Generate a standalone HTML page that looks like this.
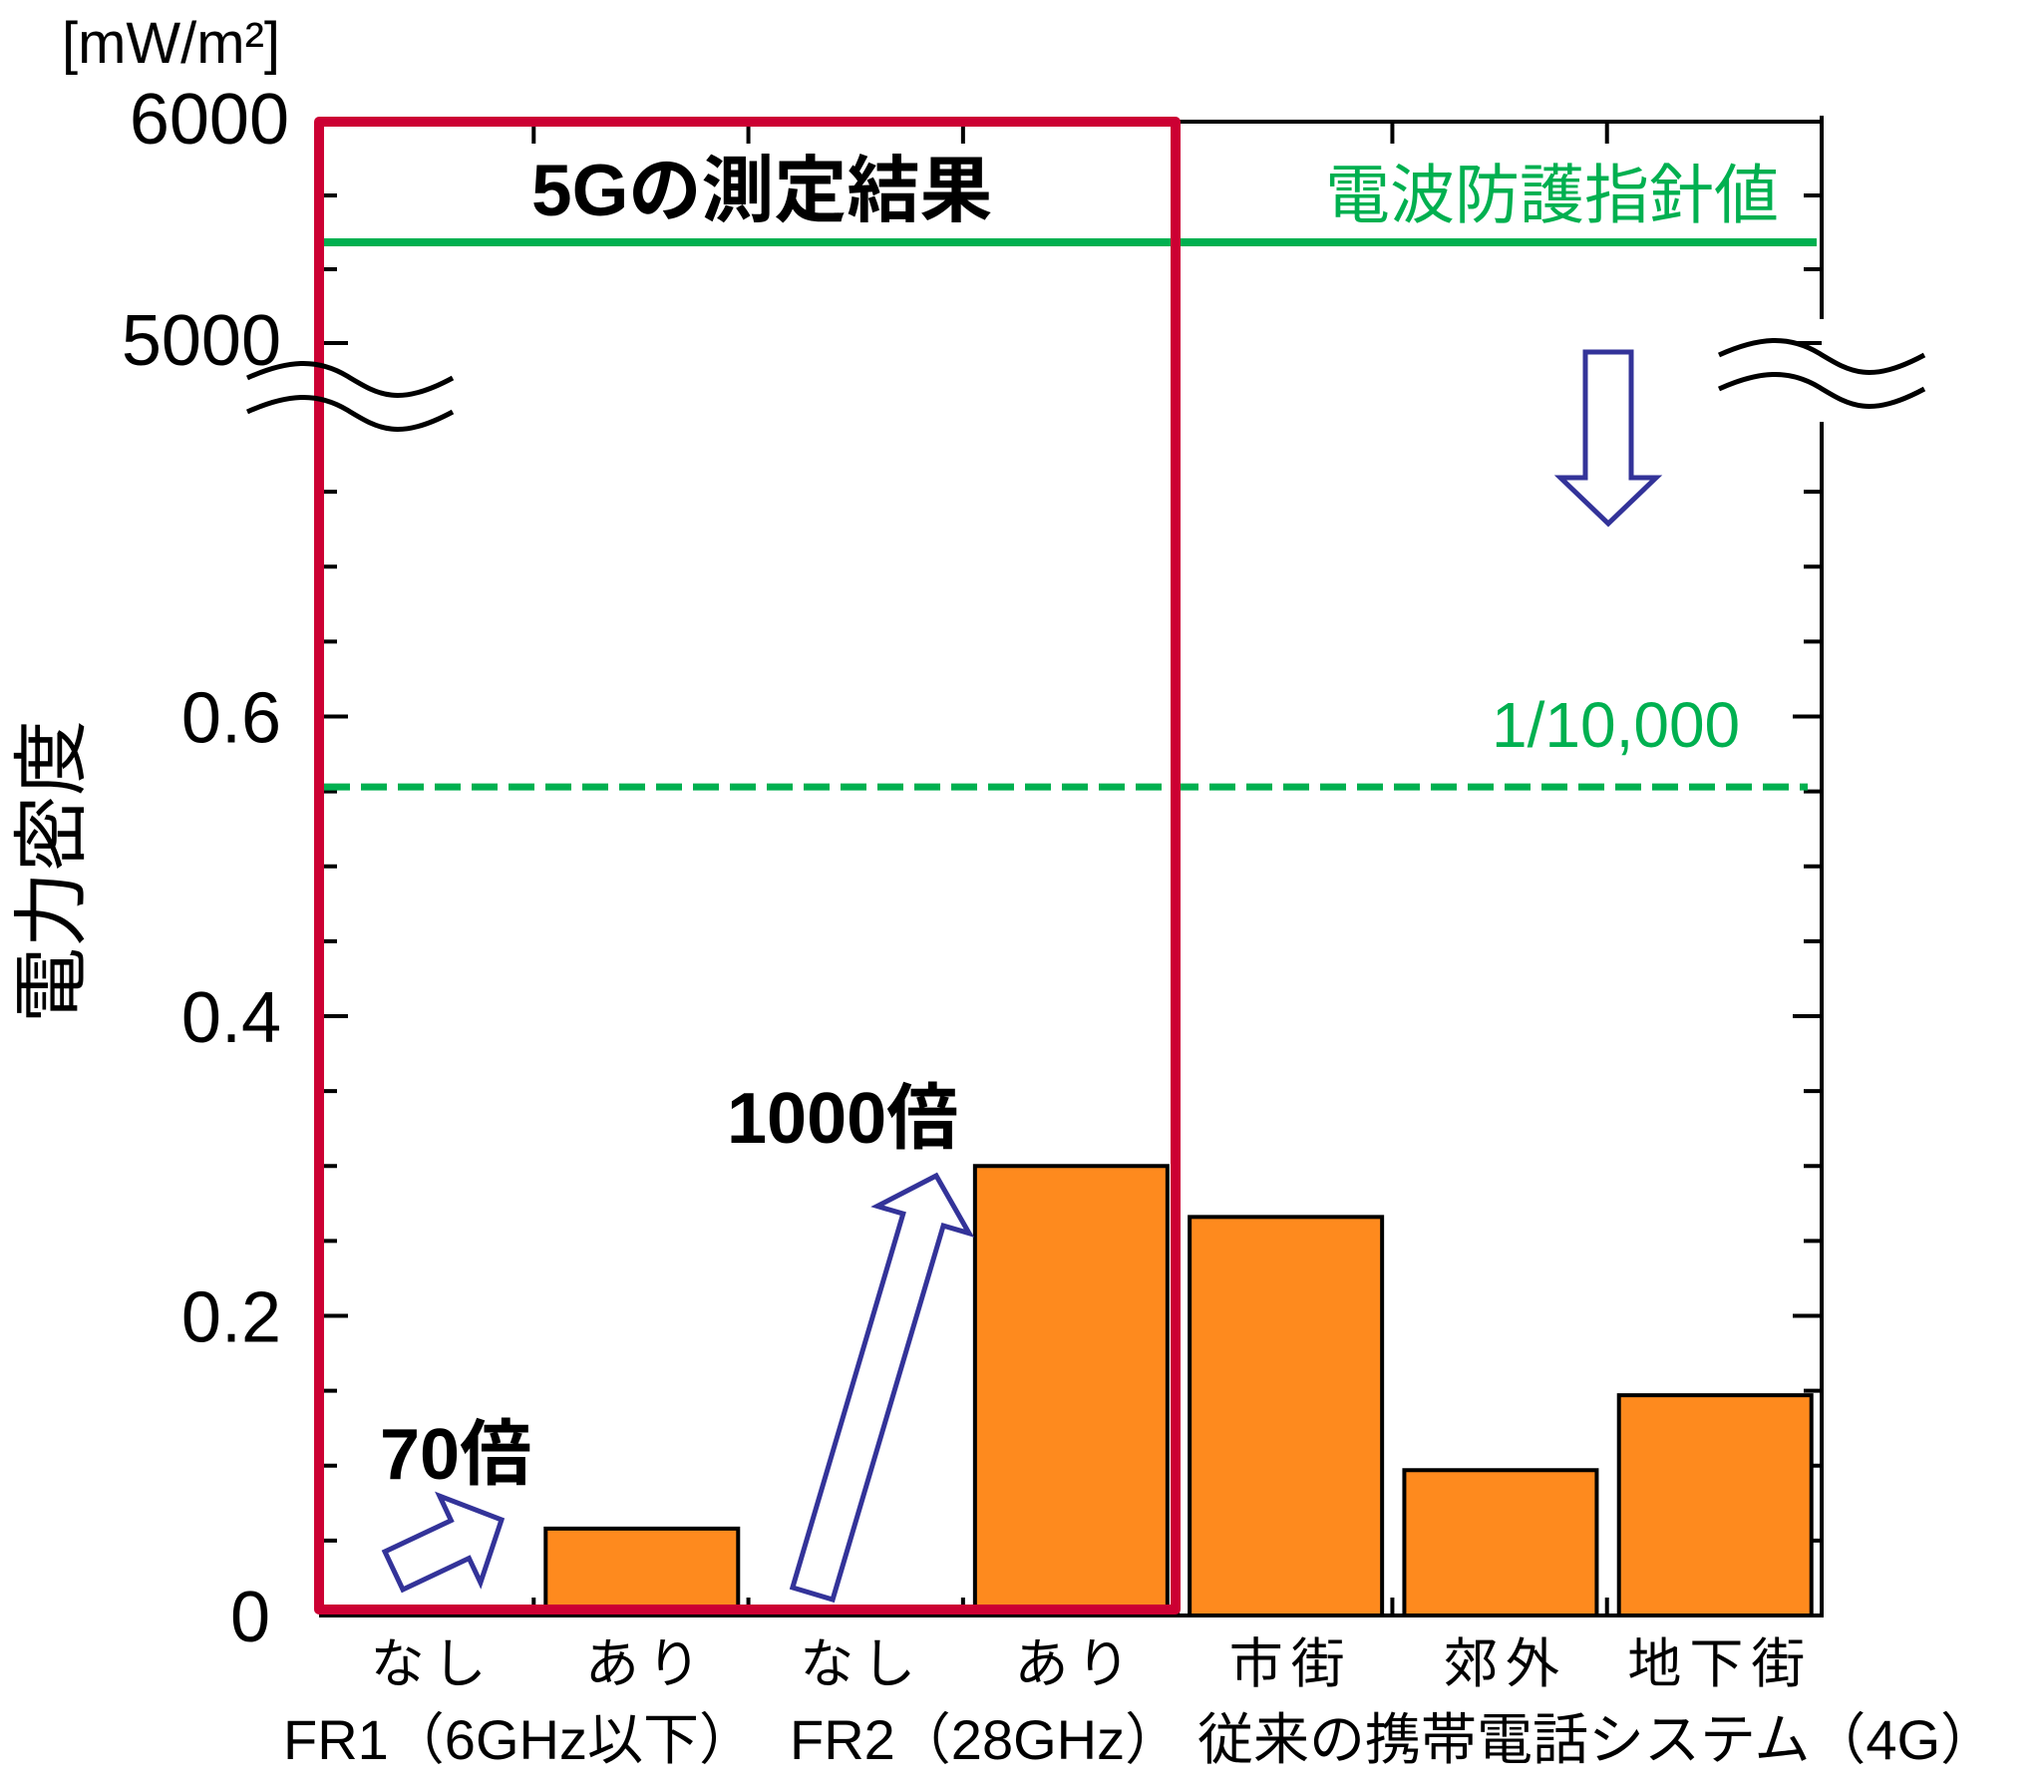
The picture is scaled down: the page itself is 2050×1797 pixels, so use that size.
<!DOCTYPE html>
<html><head><meta charset="utf-8"><style>
html,body{margin:0;padding:0;background:#fff;}
svg{display:block;}
text{font-family:"Liberation Sans","Noto Sans CJK JP",sans-serif;}
</style></head><body>
<svg id="chart" width="2050" height="1797" viewBox="0 0 2050 1797" xmlns="http://www.w3.org/2000/svg">
<g id="axes"></g>
<g id="bars"></g>
<g id="overlay"></g>
<g id="labels">
<text x="62" y="63" font-size="58">[mW/m²]</text>
<text transform="translate(78,874) rotate(-90)" text-anchor="middle" font-size="76" font-family="'Liberation Sans','Noto Sans CJK JP',sans-serif">電力密度</text>
<text x="533" y="216" font-size="73" font-weight="bold">5Gの測定結果</text>
<text x="1329" y="218" font-size="65" fill="#00b050">電波防護指針値</text>
<text x="1496" y="749" font-size="64" fill="#00b050">1/10,000</text>
<text x="729" y="1146" font-size="72" font-weight="bold">1000倍</text>
<text x="381" y="1483" font-size="72" font-weight="bold">70倍</text>
<text x="284" y="1764" font-size="56">FR1（6GHz以下）</text>
<text x="792" y="1764" font-size="56">FR2（28GHz）</text>
<text x="1201" y="1764" font-size="56">従来の携帯電話システム（4G）</text>
</g>
</svg>
<script>
const categories = ["なし","あり","なし","あり","市街","郊外","地下街"];
const values = [0, 0.058, 0, 0.300, 0.266, 0.097, 0.147];
const lowerTicks = [0, 0.2, 0.4, 0.6];
const lowerTickLabels = ["0","0.2","0.4","0.6"];
const upperTicks = [5000, 6000];
const upperTickLabels = ["5000","6000"];
const guidelineValue = 5455;
const ratioValue = 0.553;

const NS = "http://www.w3.org/2000/svg";
const X0 = 320, X1 = 1827, Y0 = 1620, TOP = 122;
const slotW = (X1 - X0) / categories.length;
function xSlot(i){ return X0 + i * slotW; }
function yLow(v){ return Y0 - v / 0.2 * 300.5; }
function yUp(v){ return 344 - (v - 5000) / 1000 * 222; }
function mk(tag, attrs, parent){
  const e = document.createElementNS(NS, tag);
  for (const k in attrs) e.setAttribute(k, attrs[k]);
  parent.appendChild(e);
  return e;
}
const axes = document.getElementById('axes');
const bars = document.getElementById('bars');
const ov = document.getElementById('overlay');

// axis lines
let l = mk('line',{x1:X0,y1:TOP,x2:X1,y2:TOP,stroke:'#000','stroke-width':4},axes);
 
l = mk('line',{x1:X0,y1:Y0,x2:X1,y2:Y0,stroke:'#000','stroke-width':4},axes);
 
l = mk('line',{x1:X1,y1:TOP-6,x2:X1,y2:320,stroke:'#000','stroke-width':4},axes);
 
l = mk('line',{x1:X1,y1:423,x2:X1,y2:Y0+2,stroke:'#000','stroke-width':4},axes);
 

// x ticks
for (let i = 1; i < categories.length; i++){
  const x = xSlot(i);
  let t = mk('line',{x1:x,y1:TOP,x2:x,y2:TOP+22,stroke:'#000','stroke-width':4},axes);
   
  t = mk('line',{x1:x,y1:Y0,x2:x,y2:Y0-18,stroke:'#000','stroke-width':4},axes);
   
}
// y ticks lower segment every 0.05
function yTick(y, major){
  const len = major ? 29 : 18;
  let t = mk('line',{x1:X0,y1:y,x2:X0+len,y2:y,stroke:'#000','stroke-width':4},axes);
   
  t = mk('line',{x1:X1,y1:y,x2:X1-len,y2:y,stroke:'#000','stroke-width':4},axes);
   
}
for (let k = 1; k <= 15; k++){
  const v = k * 0.05;
  yTick(yLow(v), k % 4 === 0);
}
for (let k = 0; k <= 3; k++){
  const v = 5000 + k * 1000 / 3;
  yTick(yUp(v), k === 0 || k === 3);
}
// tick labels
lowerTicks.forEach((v, i) => {
  const t = mk('text',{x: v === 0 ? 271 : 282, y: yLow(v)+26,'text-anchor':'end','font-size':72},axes);
  t.textContent = lowerTickLabels[i];
   
});
upperTicks.forEach((v, i) => {
  const t = mk('text',{x: v === 6000 ? 290 : 282, y: yUp(v)+22,'text-anchor':'end','font-size':72},axes);
  t.textContent = upperTickLabels[i];
   
});

// bars
values.forEach((v, i) => {
  if (v <= 0) return;
  const x = xSlot(i) + 12, y = yLow(v);
  const r = mk('rect',{x:x,y:y,width:193,height:Y0-y,fill:'#fe8a1e',stroke:'#000','stroke-width':4},bars);
   
});
// category labels
categories.forEach((c, i) => {
  const t = mk('text',{x:xSlot(i)+slotW/2+6,y:1687,'text-anchor':'middle','font-size':54,'letter-spacing':8},bars);
  t.textContent = c;
   
});

// guideline lines
l = mk('line',{x1:325,y1:yUp(guidelineValue),x2:1822,y2:yUp(guidelineValue),stroke:'#00b050','stroke-width':8},ov);
 
l = mk('line',{x1:325,y1:yLow(ratioValue),x2:1813,y2:yLow(ratioValue),stroke:'#00b050','stroke-width':7,'stroke-dasharray':'26 11'},ov);
 

// red box
l = mk('rect',{x:320,y:TOP,width:859,height:1614-TOP,fill:'none',stroke:'#cc0033','stroke-width':10,'stroke-linejoin':'round'},ov);
 

// axis break marks
function tilde(x0, y0, name){
  for (let k = 0; k < 2; k++){
    const dy = y0 + k * 34;
    const p = mk('path',{d:`M${x0},${dy+12} C${x0+40},${dy-6} ${x0+70},${dy-8} ${x0+100},${dy+10} S${x0+150},${dy+42} ${x0+206},${dy+12}`,fill:'none',stroke:'#000','stroke-width':5},ov);
     
  }
}
tilde(248, 367, 'axis-break-left');
tilde(1724, 344, 'axis-break-right');

// arrows
function arrow(tx, ty, hx, hy, sw, hw, hl, name){
  const dx = hx - tx, dy = hy - ty, L = Math.hypot(dx, dy);
  const ux = dx / L, uy = dy / L, px = -uy, py = ux;
  const bx = hx - ux * hl, by = hy - uy * hl;
  const pts = [
    [tx + px*sw, ty + py*sw], [bx + px*sw, by + py*sw], [bx + px*hw, by + py*hw],
    [hx, hy], [bx - px*hw, by - py*hw], [bx - px*sw, by - py*sw], [tx - px*sw, ty - py*sw]
  ].map(p => p[0].toFixed(1) + ',' + p[1].toFixed(1)).join(' ');
  const a = mk('polygon',{points:pts,fill:'#fff',stroke:'#333399','stroke-width':5},ov);
   
}
arrow(395, 1575, 503, 1524, 21, 48, 46, 'arrow-70x');
arrow(815, 1598, 939, 1179, 21, 48, 46, 'arrow-1000x');
arrow(1613, 353, 1613, 525, 23, 48, 46, 'arrow-down');
</script>
</body></html>
